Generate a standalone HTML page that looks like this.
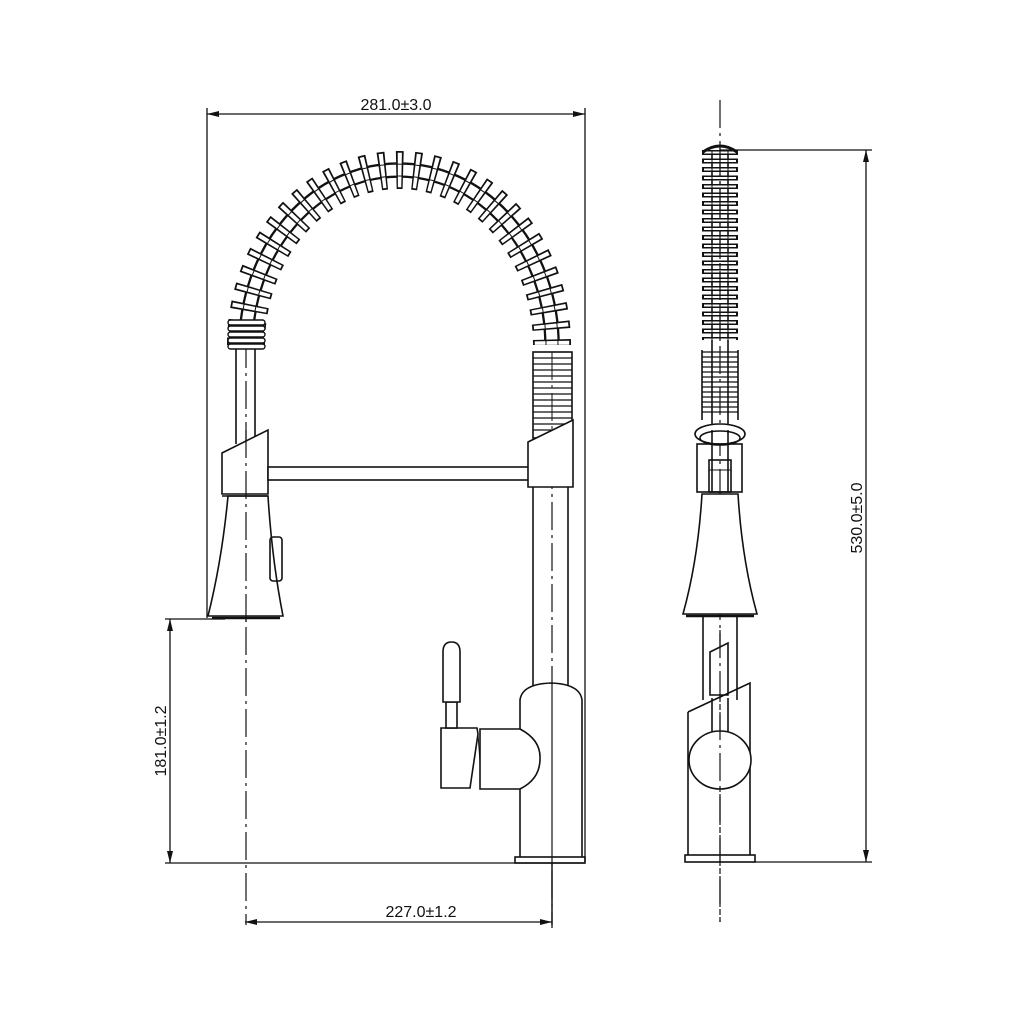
<!DOCTYPE html>
<html><head><meta charset="utf-8"><style>html,body{margin:0;padding:0;background:#fff}svg{display:block}</style></head>
<body>
<svg width="1024" height="1024" viewBox="0 0 1024 1024" xmlns="http://www.w3.org/2000/svg" fill="none" stroke="#111" stroke-width="1.6" font-family="Liberation Sans, sans-serif">
<!-- Dimensions -->
<g stroke-width="1.3">
<line x1="207" y1="114" x2="585" y2="114"/>
<line x1="207" y1="108" x2="207" y2="618"/>
<line x1="585" y1="108" x2="585" y2="862"/>
<line x1="245" y1="922" x2="552" y2="922"/>
<line x1="552" y1="862" x2="552" y2="928"/>
<line x1="170" y1="619" x2="170" y2="863"/>
<line x1="165" y1="619" x2="225" y2="619"/>
<line x1="165" y1="863" x2="585" y2="863"/>
<line x1="866" y1="150" x2="866" y2="862"/>
<line x1="720" y1="150" x2="872" y2="150"/>
<line x1="755" y1="862" x2="872" y2="862"/>
</g>
<g fill="#111" stroke="none">
<polygon points="207,114 219,111 219,117"/><polygon points="585,114 573,111 573,117"/>
<polygon points="245,922 257,919 257,925"/><polygon points="552,922 540,919 540,925"/>
<polygon points="170,619 167,631 173,631"/><polygon points="170,863 167,851 173,851"/>
<polygon points="866,150 863,162 869,162"/><polygon points="866,862 863,850 869,850"/>
</g>
<g fill="#111" stroke="none" font-size="16">
<text x="396" y="110" text-anchor="middle">281.0±3.0</text>
<text x="421" y="917" text-anchor="middle">227.0±1.2</text>
<text transform="translate(166,741) rotate(-90)" text-anchor="middle">181.0±1.2</text>
<text transform="translate(862,518) rotate(-90)" text-anchor="middle">530.0±5.0</text>
</g>
<!-- Center lines -->
<g stroke-width="1.2" stroke-dasharray="28 5 3 5">
<line x1="246" y1="340" x2="246" y2="925"/>
<line x1="552" y1="420" x2="552" y2="925"/>
<line x1="720" y1="100" x2="720" y2="922"/>
</g>
<!-- FRONT VIEW: arched spring -->
<path d="M239,345 A160,182 0 0 1 559,345" />
<path d="M253,345 A146,168 0 0 1 545,345" />
<path d="M246,345 A153,175 0 0 1 552,345" stroke-width="38" stroke-dasharray="7 10"/>
<path d="M246,345 A153,175 0 0 1 552,345" stroke="#fff" stroke-width="34.5" stroke-dasharray="3.8 13.2" stroke-dashoffset="-1.6"/>
<path d="M240,345 A159,181 0 0 1 558,345" stroke-width="1"/>
<path d="M252,345 A147,169 0 0 1 546,345" stroke-width="1"/>
<!-- left lower tight coils -->
<g stroke-width="1.4">
<rect x="228" y="320" width="37" height="5" rx="2.5" fill="#fff"/>
<rect x="228" y="326" width="37" height="5" rx="2.5" fill="#fff"/>
<rect x="228" y="332" width="37" height="5" rx="2.5" fill="#fff"/>
<rect x="228" y="338" width="37" height="5" rx="2.5" fill="#fff"/>
<rect x="228" y="344" width="37" height="5" rx="2.5" fill="#fff"/>
</g>
<!-- left straight tube -->
<line x1="236" y1="349" x2="236" y2="444"/><line x1="255" y1="349" x2="255" y2="436"/>
<!-- right ribbed -->
<rect x="533" y="352" width="39" height="86" fill="#fff"/>
<path d="M533,358H572M533,364H572M533,370H572M533,376H572M533,382H572M533,388H572M533,394H572M533,400H572M533,406H572M533,412H572M533,418H572M533,424H572M533,430H572" stroke-width="1.3"/>
<line x1="552" y1="352" x2="552" y2="440" stroke-width="1" stroke-dasharray="28 5 3 5"/>
<!-- left collar + head -->
<polygon points="222,453 268,430 268,494 222,494" fill="#fff"/>
<path d="M228,496 L268,496 Q272,560 283,616 L208,616 Q222,560 228,496 Z" fill="#fff"/>
<line x1="222" y1="496" x2="268" y2="496"/>
<rect x="270" y="537" width="12" height="44" rx="3"/>
<line x1="212" y1="618" x2="280" y2="618" stroke-width="2.5"/>
<line x1="246" y1="430" x2="246" y2="625" stroke-width="1.2" stroke-dasharray="28 5 3 5"/>
<!-- bar -->
<rect x="268" y="467" width="262" height="13" fill="#fff"/>
<!-- right collar -->
<polygon points="528,442 573,420 573,487 528,487" fill="#fff"/>
<!-- body tube -->
<line x1="533" y1="487" x2="533" y2="690"/><line x1="568" y1="487" x2="568" y2="690"/>
<!-- base body -->
<path d="M520,857 L520,700 Q522,684 551,683 Q580,684 582,700 L582,857" fill="#fff"/>
<rect x="515" y="857" width="70" height="6"/>
<line x1="552" y1="683" x2="552" y2="925" stroke-width="1.2"/>
<!-- handle -->
<path d="M480,729 L520,729 Q541,740 540,759 Q540,779 520,789 L480,789 Z" fill="#fff"/>
<path d="M441,728 L477,728 L478,734 L470,788 L441,788 Z" fill="#fff"/>
<line x1="478" y1="734" x2="480" y2="762" stroke-width="1"/>
<rect x="446" y="702" width="11" height="26" fill="#fff"/>
<path d="M443,702 L443,652 Q443,642 451.5,642 Q460,642 460,652 L460,702 Z" fill="#fff"/>
<!-- SIDE VIEW -->
<line x1="712" y1="150" x2="712" y2="445"/><line x1="728" y1="150" x2="728" y2="445"/>
<line x1="720" y1="150" x2="720" y2="340" stroke-width="36" stroke-dasharray="5 3.5" stroke-linecap="butt" transform="translate(0,0)"/>
<line x1="720" y1="150" x2="720" y2="340" stroke="#fff" stroke-width="32" stroke-dasharray="2 6.5" stroke-dashoffset="-1.5"/>
<path d="M703,152 Q720,140 737,152" stroke-width="3"/>
<line x1="720" y1="148" x2="720" y2="340" stroke-width="1.2" stroke-dasharray="28 5 3 5"/>
<line x1="712" y1="150" x2="712" y2="340" stroke-width="1"/><line x1="728" y1="150" x2="728" y2="340" stroke-width="1"/>
<path d="M702,352H738M702,357H738M702,362H738M702,367H738M702,372H738M702,377H738M702,382H738M702,387H738M702,392H738M702,397H738M702,402H738M702,407H738M702,412H738" stroke-width="1.3"/>
<line x1="702" y1="350" x2="702" y2="420"/><line x1="738" y1="350" x2="738" y2="420"/>
<ellipse cx="720" cy="434" rx="25" ry="10" fill="#fff"/>
<ellipse cx="720" cy="438" rx="20" ry="7"/>
<line x1="712" y1="430" x2="712" y2="492"/><line x1="728" y1="430" x2="728" y2="492"/>
<rect x="697" y="444" width="45" height="48"/>
<rect x="709" y="460" width="22" height="32"/>
<line x1="709" y1="470" x2="731" y2="470" stroke-width="1"/>
<path d="M702,494 L738,494 Q742,560 757,614 L683,614 Q698,560 702,494 Z" fill="#fff"/>
<line x1="686" y1="616" x2="754" y2="616" stroke-width="2.5"/>
<line x1="703" y1="616" x2="703" y2="700"/><line x1="737" y1="616" x2="737" y2="700"/>
<polygon points="710,652 728,643 728,695 710,695" fill="#fff"/>
<path d="M688,712 L750,683 L750,855 M688,712 L688,855"/>
<line x1="712" y1="698" x2="712" y2="735"/><line x1="728" y1="698" x2="728" y2="735"/>
<ellipse cx="720" cy="760" rx="31" ry="29" fill="#fff"/>
<rect x="685" y="855" width="70" height="7"/>
<line x1="720" y1="630" x2="720" y2="922" stroke-width="1.2" stroke-dasharray="28 5 3 5"/>
</svg>
</body></html>
